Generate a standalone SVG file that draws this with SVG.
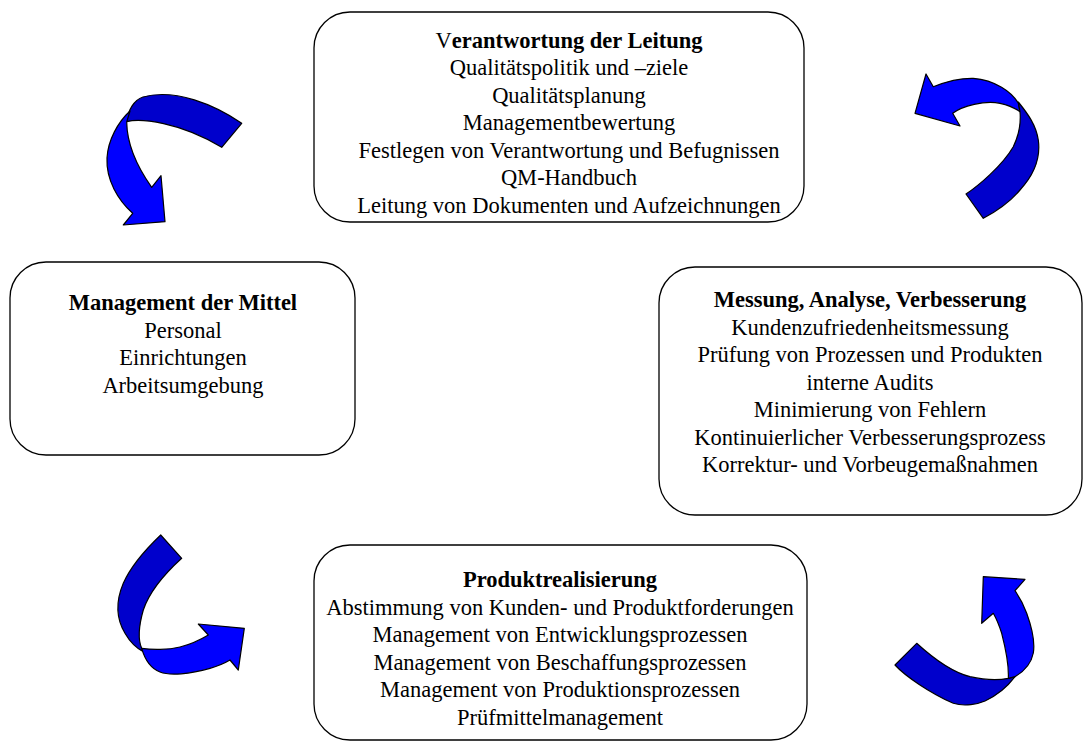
<svg xmlns="http://www.w3.org/2000/svg" width="1085" height="751" viewBox="0 0 1085 751">
<style>
.box{fill:#fff;stroke:#000;stroke-width:1.3}
text{font-family:"Liberation Serif","Times New Roman",serif;font-size:22.5px;text-anchor:middle;fill:#000}
.t{font-weight:bold}
.dk{fill:#0000CC;stroke:#000;stroke-width:1.2;stroke-linejoin:round}
.br{fill:#0000FF;stroke:#000;stroke-width:1.2;stroke-linejoin:round}
</style>
<rect width="1085" height="751" fill="#fff"/>
<g id="connectors">
  <g id="arrow-tl">
    <path class="dk" d="M241.7,123.3 C215,105 175,88 143,97 C134,100 128,110 126.7,121.7 C140,118 180,122 221.7,147.3 Z"/>
    <path class="br" d="M130,111 C118,122 108,140 107,158 C106,180 118,200 132.7,213.3 L123.3,225 L165,221.7 L161,175.7 L151.7,187.3 C138,168 127,145 126.7,122 Z"/>
  </g>
  <g id="arrow-tr">
    <path class="br" d="M933.3,86.7 L926,74 L915,113.3 L960,126 L952.7,113.3 C962,106 985,100 1000,103.3 C1008,105 1015,108 1020,111.7 L1018.3,103.3 C1012,92 995,80 973.3,78.3 C960,78 945,82 933.3,86.7 Z"/>
    <path class="dk" d="M1018.3,102 C1028,114 1036,125 1038.3,140 C1041,160 1033,176 1020,190 C1010,202 995,212 983.3,218.3 L966,194 C978,186 1002,166 1013.3,146.7 C1019,135 1021,123 1020,111.7 Z"/>
  </g>
  <g id="arrow-bl">
    <path class="dk" d="M160.7,535 C145,550 130,568 123.3,583.3 C115,603 117,620 125,633.3 C130,642 136,648 143.3,651.7 L141.7,648.3 C138,640 139,625 143.3,610 C148,596 160,578 181.7,558.3 Z"/>
    <path class="br" d="M141.7,648.3 C145,660 150,668 160,672 C170,676 190,674 210,668.3 C218,666 225,663 230,660 L238.3,670 L244.3,628.3 L198.3,624 L208.3,635 C200,640 192,644 180,647 C168,650 152,650 141.7,648.3 Z"/>
  </g>
  <g id="arrow-br">
    <path class="dk" d="M916.7,643.3 L895,665 C905,676 930,693 953.3,703.3 C965,707 978,704 985,701 C998,695 1008,686 1015,676.7 L1008.3,678.3 C1000,680 990,681 970,676.7 C955,673 935,660 916.7,643.3 Z"/>
    <path class="br" d="M1008.3,678.3 C1009,665 1006,650 1001.7,633.3 C999,625 996,618 993.3,613.3 L981.7,623.3 L983.3,576.7 L1025,579.3 L1015,590.7 C1020,598 1024,606 1026.7,613.3 C1032,628 1035,643 1033.3,653 C1031,665 1023,672 1015,676.7 Z"/>
  </g>
</g>
<g id="node-leitung">
  <rect class="box" x="314" y="12" width="490" height="210" rx="36"/>
  <text class="t" x="569" y="47.5"><tspan font-weight="normal">V</tspan>erantwortung der Leitung</text>
  <text x="569" y="75">Qualitätspolitik und –ziele</text>
  <text x="569" y="102.5">Qualitätsplanung</text>
  <text x="569" y="130">Managementbewertung</text>
  <text x="569" y="157.5">Festlegen von Verantwortung und Befugnissen</text>
  <text x="569" y="185">QM-Handbuch</text>
  <text x="569" y="212.5">Leitung von Dokumenten und Aufzeichnungen</text>
</g>
<g id="node-mittel">
  <rect class="box" x="10" y="262" width="345" height="193" rx="36"/>
  <text class="t" x="183" y="310">Management der Mittel</text>
  <text x="183" y="337.5">Personal</text>
  <text x="183" y="365">Einrichtungen</text>
  <text x="183" y="392.5">Arbeitsumgebung</text>
</g>
<g id="node-messung">
  <rect class="box" x="659" y="267" width="423" height="248" rx="36"/>
  <text class="t" x="870" y="307">Messung, Analyse, Verbesserung</text>
  <text x="870" y="334.5">Kundenzufriedenheitsmessung</text>
  <text x="870" y="362">Prüfung von Prozessen und Produkten</text>
  <text x="870" y="389.5">interne Audits</text>
  <text x="870" y="417">Minimierung von Fehlern</text>
  <text x="870" y="444.5">Kontinuierlicher Verbesserungsprozess</text>
  <text x="870" y="472">Korrektur- und Vorbeugemaßnahmen</text>
</g>
<g id="node-produkt">
  <rect class="box" x="314" y="545" width="493" height="195" rx="36"/>
  <text class="t" x="560" y="587">Produktrealisierung</text>
  <text x="560" y="614.5">Abstimmung von Kunden- und Produktforderungen</text>
  <text x="560" y="642">Management von Entwicklungsprozessen</text>
  <text x="560" y="669.5">Management von Beschaffungsprozessen</text>
  <text x="560" y="697">Management von Produktionsprozessen</text>
  <text x="560" y="724.5">Prüfmittelmanagement</text>
</g>
</svg>
